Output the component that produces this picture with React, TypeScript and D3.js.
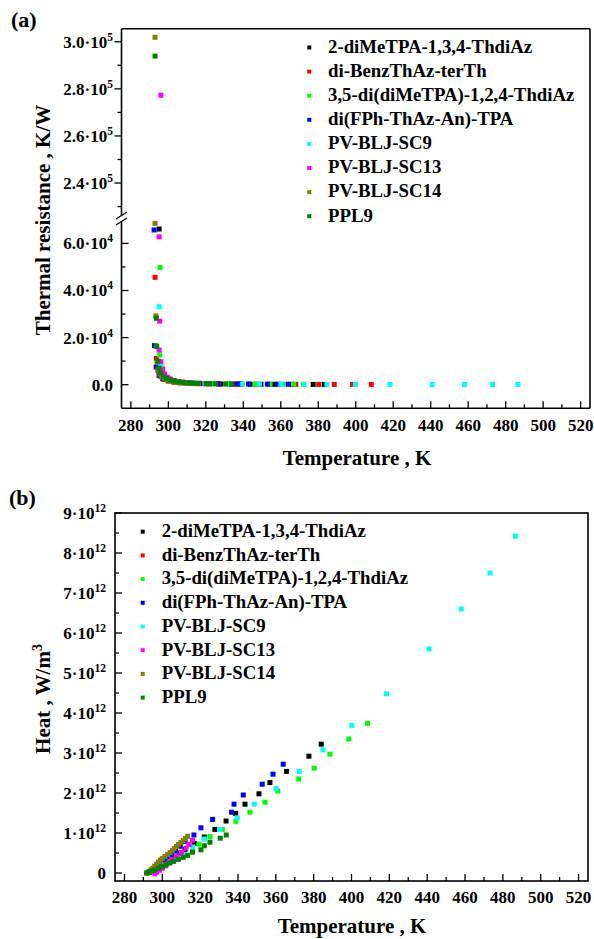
import React from 'react';
import * as d3 from 'd3';

const seriesNames = [
  '2-diMeTPA-1,3,4-ThdiAz',
  'di-BenzThAz-terTh',
  '3,5-di(diMeTPA)-1,2,4-ThdiAz',
  'di(FPh-ThAz-An)-TPA',
  'PV-BLJ-SC9',
  'PV-BLJ-SC13',
  'PV-BLJ-SC14',
  'PPL9',
];
const seriesColors = ['#000000', '#ff0000', '#00ff00', '#0000ff', '#00ffff', '#ff00ff', '#808000', '#008000'];

// ---- Panel (a): thermal resistance, K/W vs temperature, K
const resBlack: [number, number][] = [
  [295.1, 66100], [296.5, 7000], [298, 4000], [300, 2500], [302, 1800], [305, 1200], [308, 900], [312, 600],
  [316.9, 450], [322.2, 350], [327.8, 300], [333.7, 250], [338.8, 220], [343.7, 200], [349.4, 185], [356.5, 165],
  [365.7, 140], [377.3, 120], [383.2, 110],
];
const resRed: [number, number][] = [
  [292.9, 45600], [293.6, 11200], [294.5, 6000], [296, 3500], [298, 2200], [300, 1600], [303, 1100], [306, 800],
  [310, 600], [315, 450], [320, 380], [327, 300], [335, 250], [346.9, 210], [353.9, 180], [368, 150], [380.2, 130],
  [388.5, 120], [398.3, 110], [408.3, 100],
];
const resGreen: [number, number][] = [
  [295.6, 49700], [295.4, 12600], [296.5, 7000], [298, 4000], [300, 2600], [303, 1700], [306, 1200], [310, 850],
  [315, 600], [320, 480], [325.2, 400], [331.7, 340], [338.9, 300], [346.3, 260], [354.3, 230], [361, 210],
  [366.8, 190], [372, 175],
];
const resBlue: [number, number][] = [
  [292.4, 65700], [292.6, 16600], [293.5, 7500], [295, 4000], [297, 2500], [300, 1700], [304, 1200], [308, 900],
  [312, 700], [316.7, 560], [320.4, 480], [326.6, 400], [336.6, 320], [337.9, 310], [342.8, 280], [352.8, 240],
  [358.5, 220], [363.9, 200],
];
const resCyan: [number, number][] = [
  [295.1, 33100], [296, 8000], [297, 5000], [299, 3000], [301, 2000], [304, 1400], [307, 1000], [311.1, 750],
  [316.1, 550], [322.2, 420], [330.5, 330], [339.6, 270], [348.6, 230], [360.1, 190], [372.4, 160], [384.6, 140],
  [399.8, 120], [418.3, 100], [440.8, 85], [458, 75], [473.1, 68], [486.5, 62],
];
const resMagenta: [number, number][] = [
  [296, 277300], [295.1, 62800], [295.4, 27000], [295.1, 14700], [296, 9800], [297, 6500], [298, 4500],
  [299.5, 3200], [301, 2400], [303, 1800], [305, 1400], [307.5, 1100], [310, 850], [313, 650], [316, 520],
];
const resOlive: [number, number][] = [
  [292.9, 301900], [292.9, 68500], [293.3, 29200], [293.6, 16500], [294, 9500], [294.5, 6500], [295.5, 4500],
  [296.5, 3300], [298, 2500], [299.5, 1900], [301, 1500], [303, 1200], [305, 950], [307, 800], [309, 650],
  [311, 550], [313.4, 470],
];
const resDarkGreen: [number, number][] = [
  [292.9, 293900], [293.6, 28200], [293.8, 16200], [294.5, 10000], [295, 7000], [296, 5000], [297.5, 3600],
  [299, 2700], [301, 2000], [303, 1600], [305.5, 1250], [308, 1000], [311, 800], [313.4, 680], [316, 580],
  [320.4, 480], [322.2, 440], [325.2, 390], [330.6, 330], [333.8, 300],
];
const resistanceData = [resBlack, resRed, resGreen, resBlue, resCyan, resMagenta, resOlive, resDarkGreen];

// ---- Panel (b): heat, W/m^3 (x 1e12) vs temperature, K
const heatBlack: [number, number][] = [
  [294, 0.03], [297, 0.1], [300, 0.2], [303, 0.3], [306, 0.4], [309, 0.5], [312, 0.59], [316.9, 0.74],
  [322.2, 0.9], [327.8, 1.09], [333.7, 1.3], [338.8, 1.49], [343.7, 1.72], [351.1, 1.98], [356.9, 2.26],
  [365.7, 2.54], [377.5, 2.92], [384, 3.22],
];
const heatRed: [number, number][] = [[293, 0.01], [295, 0.05], [297, 0.1], [299, 0.15]];
const heatGreen: [number, number][] = [
  [296, 0.05], [299, 0.13], [302, 0.22], [305, 0.3], [308, 0.38], [311.5, 0.46], [316, 0.54], [319.4, 0.72],
  [325.2, 0.91], [331.7, 1.09], [338.9, 1.29], [346.3, 1.52], [354.3, 1.77], [361, 2.05], [372.1, 2.35],
  [380.3, 2.62], [388.6, 2.97], [398.6, 3.35], [408.5, 3.74],
];
const heatBlue: [number, number][] = [
  [293, 0.02], [295, 0.08], [297, 0.15], [299, 0.22], [301, 0.3], [303, 0.38], [305, 0.46], [307, 0.55],
  [309.5, 0.67], [312, 0.79], [316.7, 0.95], [320.4, 1.13], [326.6, 1.34], [336.6, 1.52], [337.9, 1.72],
  [342.8, 1.95], [352.8, 2.22], [358.5, 2.47], [363.9, 2.72],
];
const heatCyan: [number, number][] = [
  [295, 0.04], [298, 0.12], [301, 0.2], [304, 0.28], [307.5, 0.37], [311.1, 0.46], [316.1, 0.65], [322.2, 0.85],
  [330.5, 1.09], [339.6, 1.38], [348.6, 1.72], [360.1, 2.11], [372.4, 2.54], [384.9, 3.08], [400.2, 3.69],
  [418.5, 4.48], [441, 5.6], [458, 6.6], [473.2, 7.5], [486.6, 8.42],
];
const heatMagenta: [number, number][] = [
  [296.1, -0.02], [297, 0.02], [298.5, 0.07], [300, 0.12], [301.5, 0.18], [303, 0.25], [305, 0.33],
  [307.6, 0.42], [310.2, 0.52], [312.5, 0.62], [314.1, 0.71], [316, 0.82],
];
const heatOlive: [number, number][] = [
  [292, 0.0], [293, 0.04], [294, 0.08], [295, 0.12], [296, 0.17], [297, 0.22], [298, 0.27], [299, 0.32],
  [300, 0.36], [301.4, 0.41], [302.8, 0.46], [304.1, 0.51], [305.3, 0.56], [306.4, 0.61], [307.5, 0.66],
  [308.5, 0.71], [309.8, 0.76], [311.1, 0.81], [312.2, 0.86], [313.4, 0.92],
];
const heatDarkGreen: [number, number][] = [
  [291.7, 0.0], [293, 0.02], [294.5, 0.05], [296, 0.08], [298, 0.12], [300, 0.16], [302, 0.2], [304, 0.25],
  [306, 0.29], [308.5, 0.34], [311, 0.39], [313.4, 0.44], [316, 0.52], [320.4, 0.58], [322.2, 0.68],
  [325.2, 0.77], [330.6, 0.87], [333.8, 0.95],
];
const heatData = [heatBlack, heatRed, heatGreen, heatBlue, heatCyan, heatMagenta, heatOlive, heatDarkGreen];

const tempTicks = [280, 300, 320, 340, 360, 380, 400, 420, 440, 460, 480, 500, 520];
const resLowTicks = [0, 20000, 40000, 60000];
const resLowMantissa = ['0.0', '2.0', '4.0', '6.0'];
const resHighTicks = [240000, 260000, 280000, 300000];
const resHighMantissa = ['2.4', '2.6', '2.8', '3.0'];
const heatTicks = [0, 1, 2, 3, 4, 5, 6, 7, 8, 9];

const FONT = '"Liberation Serif", "Times New Roman", serif';

export default function App() {
  // Panel (a) scales
  const xA = d3.scaleLinear().domain([275, 525]).range([121.5, 590]);
  const yLow = d3.scaleLinear().domain([-10000, 69000]).range([408.25, 222.2]);
  const yHigh = d3.scaleLinear().domain([226000, 305500]).range([216, 28.8]);
  // Panel (b) scales
  const xB = d3.scaleLinear().domain([275, 525]).range([115, 588]);
  const yB = d3.scaleLinear().domain([-0.2, 9]).range([881, 513]);

  const topA = yHigh(305500);
  const botA = yLow(-10000);
  const topB = yB(9);
  const botB = yB(-0.2);
  const ms = 5;

  const minorTemps = d3.range(280, 521, 10);
  const lowMinor = d3.range(-10000, 69000, 10000).filter((v) => v > -10000);
  const highMinor = d3.range(230000, 305001, 10000);
  const heatMinor = d3.range(0, 9.01, 0.5);

  const sw = 1.6;
  const legFont = 18.8;

  return (
    <svg width={594} height={939} style={{ position: 'absolute', left: 0, top: 0, background: '#fff' }}
      fontFamily={FONT} fontWeight="bold">
      <rect x={0} y={0} width={594} height={939} fill="#fff" />
      {/* ================= Panel (a) ================= */}
      <text x={11} y={27} fontSize={22}>(a)</text>
      {/* frame */}
      <line x1={xA.range()[0]} x2={xA.range()[1]} y1={topA} y2={topA} stroke="#000" strokeWidth={sw} />
      <line x1={xA.range()[1]} x2={xA.range()[1]} y1={topA} y2={botA} stroke="#000" strokeWidth={sw} />
      <line x1={xA.range()[0]} x2={xA.range()[1]} y1={botA} y2={botA} stroke="#000" strokeWidth={sw} />
      <line x1={xA.range()[0]} x2={xA.range()[0]} y1={topA} y2={216} stroke="#000" strokeWidth={sw} />
      <line x1={xA.range()[0]} x2={xA.range()[0]} y1={221} y2={botA} stroke="#000" strokeWidth={sw} />
      {/* break marks */}
      <line x1={116} x2={127} y1={219} y2={212} stroke="#000" strokeWidth={1.3} />
      <line x1={116} x2={127} y1={225} y2={218} stroke="#000" strokeWidth={1.3} />
      {/* x ticks */}
      {minorTemps.map((t) => (
        <line key={'xam' + t} x1={xA(t)} x2={xA(t)} y1={botA} y2={botA - (t % 20 === 0 ? 7 : 4)} stroke="#000" strokeWidth={1.3} />
      ))}
      {tempTicks.map((t) => (
        <text key={'xal' + t} x={xA(t)} y={431} fontSize={17} textAnchor="middle">{t}</text>
      ))}
      {/* y ticks low (inward) */}
      {lowMinor.map((v) => (
        <line key={'ylm' + v} x1={xA.range()[0]} x2={xA.range()[0] + (v % 20000 === 0 ? 7 : 4)} y1={yLow(v)} y2={yLow(v)} stroke="#000" strokeWidth={1.3} />
      ))}
      {resLowTicks.map((v, i) => (
        <text key={'yll' + v} x={113} y={yLow(v) + 6} fontSize={17} textAnchor="end">
          {v === 0 ? '0.0' : (<>{resLowMantissa[i]}·10<tspan dy={-7} fontSize={11.5}>4</tspan></>)}
        </text>
      ))}
      {/* y ticks high (outward) */}
      {highMinor.map((v) => (
        <line key={'yhm' + v} x1={xA.range()[0]} x2={xA.range()[0] - (v % 20000 === 0 ? 7 : 4)} y1={yHigh(v)} y2={yHigh(v)} stroke="#000" strokeWidth={1.3} />
      ))}
      {resHighTicks.map((v, i) => (
        <text key={'yhl' + v} x={113} y={yHigh(v) + 6} fontSize={17} textAnchor="end">
          {resHighMantissa[i]}·10<tspan dy={-7} fontSize={11.5}>5</tspan>
        </text>
      ))}
      {/* axis titles */}
      <text x={357} y={465} fontSize={21} textAnchor="middle">Temperature , K</text>
      <text transform={`translate(50,220) rotate(-90)`} fontSize={21} textAnchor="middle">Thermal resistance , K/W</text>
      {/* points */}
      {resistanceData.map((pts, si) => (
        <g key={'ra' + si} fill={seriesColors[si]}>
          {pts.map(([t, v], i) => {
            const y = v > 150000 ? yHigh(v) : yLow(v);
            return <rect key={i} x={xA(t) - ms / 2} y={y - ms / 2} width={ms} height={ms} />;
          })}
        </g>
      ))}
      {/* legend a */}
      {seriesNames.map((n, i) => (
        <g key={'la' + i}>
          <rect x={309.3 - 2} y={47.5 + i * 24.1 - 2} width={4} height={4} fill={seriesColors[i]} />
          <text x={328} y={47.5 + i * 24.1 + 5.3} fontSize={legFont}>{n}</text>
        </g>
      ))}

      {/* ================= Panel (b) ================= */}
      <text x={9} y={505} fontSize={22}>(b)</text>
      <rect x={xB.range()[0]} y={topB} width={xB.range()[1] - xB.range()[0]} height={botB - topB} fill="none" stroke="#000" strokeWidth={sw} />
      {minorTemps.map((t) => (
        <line key={'xbm' + t} x1={xB(t)} x2={xB(t)} y1={botB} y2={botB - (t % 20 === 0 ? 7 : 4)} stroke="#000" strokeWidth={1.3} />
      ))}
      {tempTicks.map((t) => (
        <text key={'xbl' + t} x={xB(t)} y={903} fontSize={17} textAnchor="middle">{t}</text>
      ))}
      {heatMinor.map((v) => (
        <line key={'ybm' + v} x1={xB.range()[0]} x2={xB.range()[0] + (Number.isInteger(v) ? 7 : 4)} y1={yB(v)} y2={yB(v)} stroke="#000" strokeWidth={1.3} />
      ))}
      {heatTicks.map((v) => (
        <text key={'ybl' + v} x={106} y={yB(v) + 6} fontSize={17} textAnchor="end">
          {v === 0 ? '0' : (<>{v}·10<tspan dy={-7} fontSize={11.5}>12</tspan></>)}
        </text>
      ))}
      <text x={352} y={933} fontSize={21} textAnchor="middle">Temperature , K</text>
      <text transform={`translate(50,699) rotate(-90)`} fontSize={21} textAnchor="middle">
        Heat , W/m<tspan dy={-8} fontSize={14}>3</tspan>
      </text>
      {heatData.map((pts, si) => (
        <g key={'hb' + si} fill={seriesColors[si]}>
          {pts.map(([t, v], i) => (
            <rect key={i} x={xB(t) - ms / 2} y={yB(v) - ms / 2} width={ms} height={ms} />
          ))}
        </g>
      ))}
      {seriesNames.map((n, i) => (
        <g key={'lb' + i}>
          <rect x={142.7 - 2} y={531.7 + i * 23.7 - 2} width={4} height={4} fill={seriesColors[i]} />
          <text x={161.7} y={531.7 + i * 23.7 + 5.3} fontSize={legFont}>{n}</text>
        </g>
      ))}
    </svg>
  );
}
